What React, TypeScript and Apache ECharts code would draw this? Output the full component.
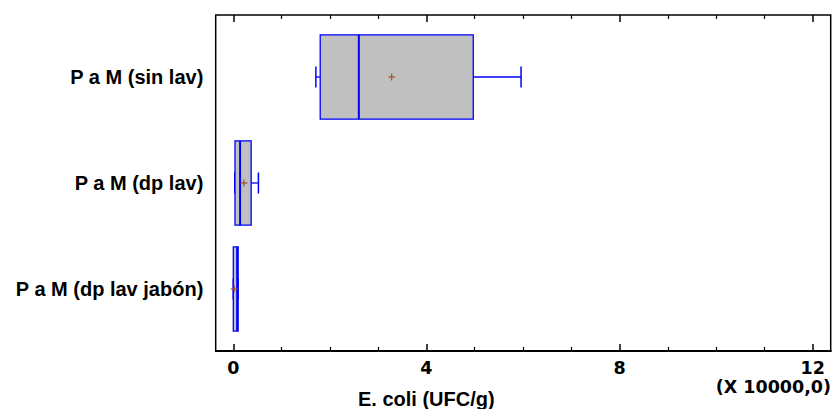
import React, { useEffect, useRef } from "react";
import * as echarts from "echarts";

const categories = ["P a M (sin lav)", "P a M (dp lav)", "P a M (dp lav jabón)"];
const mins = [1.71, 0.03, 0.0];
const q1s = [1.8, 0.035, 0.0];
const medians = [2.6, 0.14, 0.08];
const q3s = [4.97, 0.37, 0.1];
const maxs = [5.96, 0.52, 0.1];
const means = [3.28, 0.22, 0.02];
const xTicks = [0, 4, 8, 12];

const FONT = "'Liberation Sans', Arial, sans-serif";
const WIDE = "'DejaVu Sans', sans-serif";

export default function App() {
  const ref = useRef<HTMLDivElement>(null);
  useEffect(() => {
    if (!ref.current) return;
    const chart = echarts.init(ref.current, undefined, { renderer: "svg" });
    const data = categories.map((_, i) => [i, mins[i], q1s[i], medians[i], q3s[i], maxs[i], means[i]]);
    const L = 233.3;
    const R = 835 - 812.7;
    const option: any = {
      animation: false,
      backgroundColor: "#ffffff",
      grid: [
        { left: L, right: R, top: 24, height: 318 },
        { left: L, right: R, top: 15, height: 336 },
      ],
      xAxis: [
        { gridIndex: 0, type: "value", min: 0, max: 12, show: false },
        {
          gridIndex: 1, type: "value", min: 0, max: 12, interval: 4, position: "bottom",
          axisLine: { show: false },
          splitLine: { show: false },
          axisTick: { show: true, inside: true, length: 7, lineStyle: { color: "#000", width: 1.5 } },
          minorTick: { show: true, splitNumber: 4, length: 4, lineStyle: { color: "#000", width: 1.2 } },
          axisLabel: {
            show: true, margin: 9, lineHeight: 16, color: "#000", fontSize: 17.5, fontWeight: "bold", fontFamily: WIDE,
            formatter: (v: number) => (xTicks.includes(v) ? String(v) : ""),
          },
        },
        {
          gridIndex: 1, type: "value", min: 0, max: 12, interval: 4, position: "top",
          axisLine: { show: false },
          splitLine: { show: false },
          axisTick: { show: true, inside: true, length: 7, lineStyle: { color: "#000", width: 1.5 } },
          minorTick: { show: true, splitNumber: 4, length: 4, lineStyle: { color: "#000", width: 1.2 } },
          axisLabel: { show: false },
        },
      ],
      yAxis: [
        {
          gridIndex: 0, type: "category", data: categories, inverse: true,
          axisLine: { show: false }, axisTick: { show: false }, splitLine: { show: false },
          axisLabel: { margin: 30, color: "#000", fontSize: 20, fontWeight: "bold", fontFamily: FONT },
        },
        { gridIndex: 1, type: "value", show: false, min: 0, max: 1 },
      ],
      graphic: [
        {
          type: "rect", z: 10, silent: true,
          shape: { x: 215.7, y: 15, width: 615, height: 336 },
          style: { fill: "none", stroke: "#000", lineWidth: 1.5 },
        },
        {
          type: "line", z: 10, silent: true,
          shape: { x1: 215, y1: 351, x2: 831.5, y2: 351 },
          style: { stroke: "#000", lineWidth: 2.2 },
        },
        {
          type: "text", left: 358, top: 389,
          style: { text: "E. coli (UFC/g)", fill: "#000", font: `bold 20px ${FONT}`, lineHeight: 18 },
        },
        {
          type: "text", right: 4, top: 378,
          style: { text: "(X 10000,0)", fill: "#000", font: `bold 17.5px ${WIDE}`, lineHeight: 17 },
        },
      ],
      series: [
        {
          type: "custom",
          xAxisIndex: 0,
          yAxisIndex: 0,
          encode: { y: 0, x: [1, 2, 3, 4, 5, 6] },
          data,
          renderItem: (params: any, api: any) => {
            const c = api.value(0);
            const band = api.size([0, 1])[1];
            const boxH = band * 0.795;
            const capH = 21;
            const pMin = api.coord([api.value(1), c]);
            const pQ1 = api.coord([api.value(2), c]);
            const pMed = api.coord([api.value(3), c]);
            const pQ3 = api.coord([api.value(4), c]);
            const pMax = api.coord([api.value(5), c]);
            const pMean = api.coord([api.value(6), c]);
            const y = pMed[1];
            const blue = "#0000ff";
            return {
              type: "group",
              children: [
                {
                  type: "line",
                  shape: { x1: pMin[0], y1: y, x2: pQ1[0], y2: y },
                  style: { stroke: blue, lineWidth: 1.3 },
                },
                {
                  type: "line",
                  shape: { x1: pQ3[0], y1: y, x2: pMax[0], y2: y },
                  style: { stroke: blue, lineWidth: 1.3 },
                },
                {
                  type: "line",
                  shape: { x1: pMin[0], y1: y - capH / 2, x2: pMin[0], y2: y + capH / 2 },
                  style: { stroke: blue, lineWidth: 1.5 },
                },
                {
                  type: "line",
                  shape: { x1: pMax[0], y1: y - capH / 2, x2: pMax[0], y2: y + capH / 2 },
                  style: { stroke: blue, lineWidth: 1.5 },
                },
                {
                  type: "rect",
                  shape: { x: pQ1[0], y: y - boxH / 2, width: Math.max(pQ3[0] - pQ1[0], 0.5), height: boxH },
                  style: { fill: "#c0c0c0", stroke: blue, lineWidth: 1.3 },
                },
                {
                  type: "line",
                  shape: { x1: pMed[0], y1: y - boxH / 2, x2: pMed[0], y2: y + boxH / 2 },
                  style: { stroke: blue, lineWidth: 2 },
                },
                {
                  type: "line",
                  shape: { x1: pMean[0] - 3.5, y1: pMean[1], x2: pMean[0] + 3.5, y2: pMean[1] },
                  style: { stroke: "#a0522d", lineWidth: 1.2 },
                },
                {
                  type: "line",
                  shape: { x1: pMean[0], y1: pMean[1] - 3.5, x2: pMean[0], y2: pMean[1] + 3.5 },
                  style: { stroke: "#a0522d", lineWidth: 1.2 },
                },
              ],
            };
          },
        },
      ],
    };
    chart.setOption(option);
    return () => chart.dispose();
  }, []);
  return <div ref={ref} style={{ position: "absolute", left: 0, top: 0, width: 835, height: 409 }} />;
}
